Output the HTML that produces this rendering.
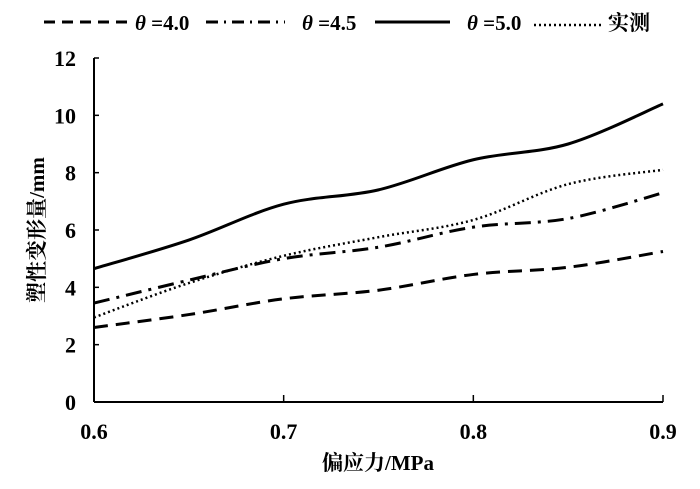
<!DOCTYPE html>
<html><head><meta charset="utf-8"><style>
body{margin:0;background:#fff}
svg text{font-family:"Liberation Serif","Noto Serif CJK SC",serif;font-weight:bold;fill:#000}
</style></head><body>
<svg width="700" height="484" viewBox="0 0 700 484" id="chart">
<g id="axes"></g><g id="series"></g>
<g>
 <line x1="44" y1="22" x2="130" y2="22" stroke="#000" stroke-width="3" stroke-dasharray="11,7"/>
 <text x="135" y="30" font-size="21"><tspan font-style="italic">θ</tspan> =4.0</text>
 <line x1="206" y1="22" x2="285" y2="22" stroke="#000" stroke-width="3" stroke-dasharray="12,6,2,6"/>
 <text x="302" y="30" font-size="21"><tspan font-style="italic">θ</tspan> =4.5</text>
 <line x1="375" y1="22" x2="450" y2="22" stroke="#000" stroke-width="3"/>
 <text x="467" y="30" font-size="21"><tspan font-style="italic">θ</tspan> =5.0</text>
 <line x1="534" y1="25" x2="602" y2="25" stroke="#000" stroke-width="2.5" stroke-dasharray="2,3"/>
 <text x="608" y="30" font-size="21">实测</text>
</g>
<text x="378" y="470" font-size="21" text-anchor="middle">偏应力/MPa</text>
<text transform="translate(44,230) rotate(-90)" font-size="21" text-anchor="middle">塑性变形量/mm</text>
</svg>
<script>
const xCats=[0.6,0.65,0.7,0.75,0.8,0.85,0.9];
const s40=[2.6,3.05,3.6,3.9,4.45,4.7,5.25];
const s45=[3.45,4.25,5.0,5.4,6.1,6.4,7.3];
const s50=[4.65,5.65,6.9,7.4,8.45,9.0,10.4];
const sMeas=[2.95,4.15,5.1,5.75,6.35,7.6,8.1];
const xTicks=[0.6,0.7,0.8,0.9];
const yTicks=[0,2,4,6,8,10,12];
const NS="http://www.w3.org/2000/svg";
const X=v=>94+(v-0.6)/0.3*569, Y=v=>402-v/12*344;
const ax=document.getElementById('axes'), sg=document.getElementById('series');
function mk(t,a,p){const e=document.createElementNS(NS,t);for(const k in a)e.setAttribute(k,a[k]);p.appendChild(e);return e;}
let e=mk('line',{x1:94,y1:Y(12),x2:94,y2:402,stroke:'#000','stroke-width':2},ax);


e=mk('line',{x1:94,y1:402,x2:663,y2:402,stroke:'#000','stroke-width':2},ax);


yTicks.forEach(v=>{
 mk('line',{x1:94,y1:Y(v),x2:99,y2:Y(v),stroke:'#000','stroke-width':1.5},ax);
 const t=mk('text',{x:76,y:Y(v)+8,'font-size':22,'text-anchor':'end'},ax);t.textContent=v;
 
 
});
xTicks.forEach(v=>{
 mk('line',{x1:X(v),y1:402,x2:X(v),y2:395,stroke:'#000','stroke-width':1.5},ax);
 const t=mk('text',{x:X(v),y:439,'font-size':22,'text-anchor':'middle'},ax);t.textContent=v.toFixed(1);
 
 
});
function path(vals){
 const p=xCats.map((x,i)=>[X(x),Y(vals[i])]);
 let d='M'+p[0][0]+','+p[0][1];
 for(let i=0;i<p.length-1;i++){
  const p0=p[Math.max(i-1,0)],p1=p[i],p2=p[i+1],p3=p[Math.min(i+2,p.length-1)];
  d+=' C'+(p1[0]+(p2[0]-p0[0])/6)+','+(p1[1]+(p2[1]-p0[1])/6)+' '+(p2[0]-(p3[0]-p1[0])/6)+','+(p2[1]-(p3[1]-p1[1])/6)+' '+p2[0]+','+p2[1];
 }
 return d;
}
e=mk('path',{d:path(s40),fill:'none',stroke:'#000','stroke-width':3,'stroke-dasharray':'14,8'},sg);


e=mk('path',{d:path(s45),fill:'none',stroke:'#000','stroke-width':3,'stroke-dasharray':'16,7,3,7'},sg);


e=mk('path',{d:path(s50),fill:'none',stroke:'#000','stroke-width':3},sg);


e=mk('path',{d:path(sMeas),fill:'none',stroke:'#000','stroke-width':2.5,'stroke-dasharray':'2,3'},sg);


</script>
</body></html>
